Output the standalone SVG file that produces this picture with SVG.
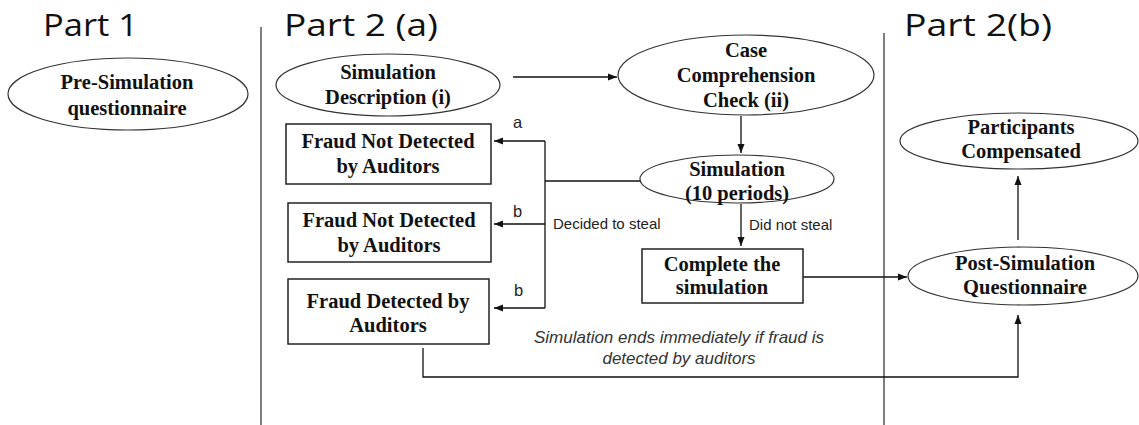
<svg xmlns="http://www.w3.org/2000/svg" width="1139" height="425" viewBox="0 0 1139 425">
<style>
.title{font-family:"Open Sans","Liberation Sans",sans-serif;font-size:31px;fill:#111}
.nt{font-family:"Liberation Serif","Times New Roman",serif;font-weight:bold;font-size:20.5px;fill:#111;text-anchor:middle}
.lb{font-family:"Liberation Sans",Arial,sans-serif;font-size:15px;fill:#222}
.ab{font-family:"Liberation Sans",Arial,sans-serif;font-size:16.5px;fill:#222}
.it{font-family:"Liberation Sans",Arial,sans-serif;font-style:italic;font-size:17px;fill:#333;text-anchor:middle}
.el{fill:#fff;stroke:#333;stroke-width:1.2}
.bx{fill:#fff;stroke:#222;stroke-width:1.5}
.cn{fill:none;stroke:#111;stroke-width:1.3}
.dv{stroke:#555;stroke-width:1.5}
</style>
<defs>
<marker id="ah" markerWidth="10" markerHeight="8" refX="9" refY="4" orient="auto" markerUnits="userSpaceOnUse">
<path d="M0,0.5 L9,4 L0,7.5 z" fill="#111"/>
</marker>
</defs>
<rect width="1139" height="425" fill="#fff"/>
<g id="titles">
<text class="title" x="43" y="36" textLength="95" lengthAdjust="spacingAndGlyphs">Part 1</text>
<text class="title" x="284" y="36" textLength="154" lengthAdjust="spacingAndGlyphs">Part 2 (a)</text>
<text class="title" x="904" y="36" textLength="148" lengthAdjust="spacingAndGlyphs">Part 2(b)</text>
</g>
<g id="dividers">
<line class="dv" x1="261" y1="27" x2="261" y2="425"/>
<line class="dv" x1="884" y1="33" x2="884" y2="425"/>
</g>
<g id="connectors">
<path class="cn" d="M513,77 H617" marker-end="url(#ah)"/>
<path class="cn" d="M741,116 V153" marker-end="url(#ah)"/>
<path class="cn" d="M641,181 H545"/>
<path class="cn" d="M545,141 V308"/>
<path class="cn" d="M545,141 H494" marker-end="url(#ah)"/>
<path class="cn" d="M545,224 H494" marker-end="url(#ah)"/>
<path class="cn" d="M545,308 H494" marker-end="url(#ah)"/>
<path class="cn" d="M741,204 V246" marker-end="url(#ah)"/>
<path class="cn" d="M803,277 H907" marker-end="url(#ah)"/>
<path class="cn" d="M1018,240 V176" marker-end="url(#ah)"/>
<path class="cn" d="M423,348 V377 H1018 V315" marker-end="url(#ah)"/>
<text class="ab" x="513" y="128">a</text>
<text class="ab" x="513" y="217">b</text>
<text class="ab" x="514" y="296">b</text>
<text class="lb" x="553" y="229">Decided to steal</text>
<text class="lb" x="749" y="230">Did not steal</text>
<text class="it" x="679" y="343">Simulation ends immediately if fraud is</text>
<text class="it" x="679" y="364">detected by auditors</text>
</g>
<g id="pre-sim">
<ellipse class="el" cx="128" cy="94" rx="120" ry="36"/>
<text class="nt" x="127" y="89">Pre-Simulation</text>
<text class="nt" x="127" y="115">questionnaire</text>
</g>
<g id="sim-desc">
<ellipse class="el" cx="388" cy="85" rx="112" ry="31"/>
<text class="nt" x="388" y="79">Simulation</text>
<text class="nt" x="388" y="104">Description (i)</text>
</g>
<g id="case-check">
<ellipse class="el" cx="746" cy="75" rx="128" ry="40"/>
<text class="nt" x="746" y="57">Case</text>
<text class="nt" x="746" y="82">Comprehension</text>
<text class="nt" x="746" y="107">Check (ii)</text>
</g>
<g id="simulation">
<ellipse class="el" cx="737" cy="179" rx="97" ry="24"/>
<text class="nt" x="737" y="176">Simulation</text>
<text class="nt" x="737" y="200">(10 periods)</text>
</g>
<g id="box1">
<rect class="bx" x="286" y="124" width="205" height="60"/>
<text class="nt" x="388" y="148">Fraud Not Detected</text>
<text class="nt" x="388" y="173">by Auditors</text>
</g>
<g id="box2">
<rect class="bx" x="288" y="203" width="203" height="59"/>
<text class="nt" x="389" y="227">Fraud Not Detected</text>
<text class="nt" x="389" y="252">by Auditors</text>
</g>
<g id="box3">
<rect class="bx" x="288" y="279" width="201" height="65"/>
<text class="nt" x="388" y="308">Fraud Detected by</text>
<text class="nt" x="388" y="332">Auditors</text>
</g>
<g id="complete">
<rect class="bx" x="642" y="249" width="161" height="54"/>
<text class="nt" x="722" y="271">Complete the</text>
<text class="nt" x="722" y="294">simulation</text>
</g>
<g id="post-sim">
<ellipse class="el" cx="1023" cy="276" rx="115" ry="29"/>
<text class="nt" x="1025" y="270">Post-Simulation</text>
<text class="nt" x="1025" y="294">Questionnaire</text>
</g>
<g id="participants">
<ellipse class="el" cx="1019" cy="141" rx="119" ry="28"/>
<text class="nt" x="1021" y="134">Participants</text>
<text class="nt" x="1021" y="158">Compensated</text>
</g>
</svg>
